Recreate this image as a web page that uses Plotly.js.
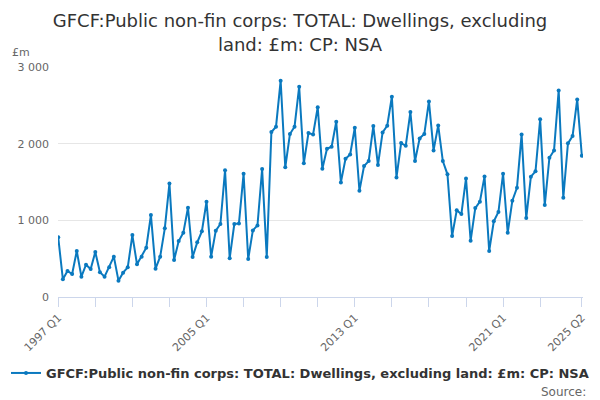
<!DOCTYPE html>
<html>
<head>
<meta charset="utf-8">
<script src="https://cdn.plot.ly/plotly-3.0.1.min.js"></script>
<style>
  html, body { margin: 0; padding: 0; background: #ffffff; }
  #chart { width: 600px; height: 400px; }
</style>
</head>
<body>
<div id="chart"></div>
<script>
// GFCF public non-fin corps, dwellings excl. land (£m, CP, NSA), quarterly 1997 Q1 – 2025 Q2

const FIRST_YEAR = 1997;
const SERIES_NAME = 'GFCF:Public non-fin corps: TOTAL: Dwellings, excluding land: £m: CP: NSA';

const values = [
  778, 231, 339, 300, 600, 265, 421, 365,        // 1997-1998
  587, 322, 265, 387, 526, 213, 317, 387,        // 1999-2000
  808, 426, 526, 643, 1069, 369, 526, 896,       // 2001-2002
  1482, 482, 730, 838, 1164, 522, 713, 856,      // 2003-2004
  1243, 526, 865, 952, 1652, 504, 952, 960,      // 2005-2006
  1608, 495, 869, 934, 1669, 522, 2151, 2221,    // 2007-2008
  2821, 1691, 2125, 2221, 2743, 1743, 2138, 2121, // 2009-2010
  2475, 1673, 1934, 1960, 2286, 1495, 1803, 1860, // 2011-2012
  2208, 1386, 1708, 1773, 2229, 1721, 2147, 2234, // 2013-2014
  2612, 1560, 2008, 1973, 2412, 1773, 2069, 2125, // 2015-2016
  2551, 1912, 2238, 1773, 1600, 795, 1130, 1082,  // 2017-2018
  1547, 734, 1160, 1243, 1573, 600, 987, 1108,    // 2019-2020
  1608, 838, 1256, 1425, 2121, 1030, 1569, 1639,  // 2021-2022
  2317, 1199, 1816, 1912, 2695, 1295, 2004, 2099, // 2023-2024
  2577, 1842                                      // 2025
];

const quarters = values.map((_, i) => `${FIRST_YEAR + Math.floor(i / 4)} Q${(i % 4) + 1}`);

const labelledTicks = ['1997 Q1', '2005 Q1', '2013 Q1', '2021 Q1', '2025 Q2'];

// tick marks every two years, plus the latest quarter
const tickIdx = [];
for (let i = 0; i < quarters.length - 8; i += 8) tickIdx.push(i);
tickIdx.push(quarters.length - 1);
const tickVals = tickIdx.map(i => quarters[i]);
const tickText = tickVals.map(q => labelledTicks.includes(q) ? q : '');

const FONT = 'DejaVu Sans, Open Sans, sans-serif';

const traces = [
  {
    x: quarters, y: values, name: SERIES_NAME,
    type: 'scatter', mode: 'lines+markers',
    line: { color: '#0a79bf', width: 2 },
    marker: { color: '#0a79bf', size: 4 },
  },
];

const layout = {
  width: 600, height: 400,
  margin: { t: 67, r: 17, b: 103, l: 58 },
  paper_bgcolor: '#ffffff',
  plot_bgcolor: '#ffffff',
  separators: '. ',
  font: { family: FONT, size: 12, color: '#666666' },
  title: {
    text: 'GFCF:Public non-fin corps: TOTAL: Dwellings, excluding<br>land: £m: CP: NSA',
    font: { family: FONT, size: 18, color: '#333333' },
    x: 0.5, xanchor: 'center',
    y: 0.932, yanchor: 'middle', yref: 'container',
  },
  xaxis: {
    type: 'category',
    range: [-0.05, 113.25],
    tickvals: tickVals, ticktext: tickText,
    tickangle: -45,
    ticks: 'outside', ticklen: 9, tickcolor: '#ccd6eb', tickwidth: 1,
    tickfont: { family: FONT, size: 11, color: '#666666' },
    showgrid: false, zeroline: false,
    showline: true, linecolor: '#ccd6eb', linewidth: 1,
    fixedrange: true,
  },
  yaxis: {
    range: [0, 3000],
    tickvals: [0, 1000, 2000, 3000],
    tickformat: ',d',
    separatethousands: true,
    tickfont: { family: FONT, size: 11, color: '#666666' },
    ticklabelstandoff: 8,
    showgrid: true, gridcolor: '#e6e6e6', gridwidth: 1,
    zeroline: false, showline: false,
    fixedrange: true,
  },
  showlegend: true,
  legend: {
    orientation: 'h',
    x: 0.5, xanchor: 'center', xref: 'container',
    y: 0.0675, yanchor: 'middle', yref: 'container',
    font: { family: FONT, size: 13, color: '#333333', weight: 'bold' },
    itemwidth: 30,
  },
  annotations: [
    {
      text: '£m', xref: 'paper', yref: 'paper',
      x: -0.092, y: 1.065, xanchor: 'left', yanchor: 'middle',
      showarrow: false, font: { family: FONT, size: 11, color: '#666666' },
    },
    {
      text: 'Source:', xref: 'paper', yref: 'paper',
      x: 1.01, y: -0.413, xanchor: 'right', yanchor: 'middle',
      showarrow: false, font: { family: FONT, size: 12, color: '#666666' },
    },
  ],
};

Plotly.newPlot('chart', traces, layout, { displayModeBar: false, staticPlot: true });
</script>
</body>
</html>
